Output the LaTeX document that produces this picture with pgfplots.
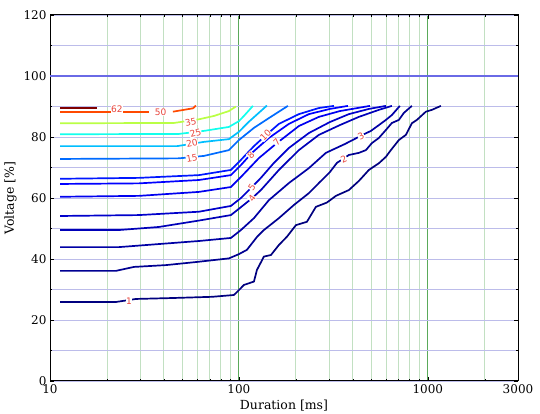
\documentclass[border=0pt]{standalone}
\usepackage{fontspec}
\setmainfont{DejaVu Serif}
\newfontfamily\lblfont{DejaVu Sans}
\usepackage{pgfplots}
\pgfplotsset{compat=1.18}

% jet colours for the contour levels
\definecolor{lv1}{HTML}{00007F}
\definecolor{lv2}{HTML}{000092}
\definecolor{lv3}{HTML}{0000A5}
\definecolor{lv4}{HTML}{0000B8}
\definecolor{lv5}{HTML}{0000CB}
\definecolor{lv7}{HTML}{0000F0}
\definecolor{lv8}{HTML}{0000FF}
\definecolor{lv10}{HTML}{0017FF}
\definecolor{lv15}{HTML}{006BFF}
\definecolor{lv20}{HTML}{00BEFF}
\definecolor{lv25}{HTML}{12FFED}
\definecolor{lv35}{HTML}{BAFF45}
\definecolor{lv50}{HTML}{FF4A00}
\definecolor{lv62}{HTML}{7F0000}
\definecolor{gmaj}{HTML}{5AAA5A}
\definecolor{gmin}{HTML}{C2E0C2}
\definecolor{bgrid}{HTML}{BCBCEA}
\definecolor{bline}{HTML}{6A6AE6}
\definecolor{lred}{HTML}{E8453C}
\tikzset{lab/.style={font=\lblfont\fontsize{9}{10}\selectfont, text=lred, fill=white, inner sep=0.4pt}}

\begin{document}
\begin{tikzpicture}
\begin{axis}[
    width=468pt, height=366pt, scale only axis,
    xmode=log, xmin=10, xmax=3000, ymin=0, ymax=120,
    xtick={10,100,1000,3000}, xticklabels={10,100,1000,3000},
    minor xtick={20,30,40,50,60,70,80,90,200,300,400,500,600,700,800,900,2000},
    ytick={0,20,40,60,80,100,120},
    minor ytick={10,30,50,70,90,110},
    grid=both,
    major x grid style={color=gmaj, line width=1pt},
    minor x grid style={color=gmin, line width=0.7pt},
    major y grid style={color=bgrid, line width=0.7pt},
    minor y grid style={color=bgrid, line width=0.7pt},
    tick align=inside, major tick length=4pt, minor tick length=2pt,
    tick style={black},
    axis line style={line width=1pt},
    xlabel={Duration [ms]}, ylabel={Voltage [\%]},
    tick label style={font=\fontsize{12}{14}\selectfont},
    label style={font=\fontsize{12.5}{14}\selectfont},
    /pgf/number format/assume math mode=true,
    every axis plot/.append style={line width=1.7pt, line join=round},
    no markers,
]
\addplot[bline, line width=1.1pt] coordinates {(10,100) (3000,100)};

% level 1
\addplot[lv1] coordinates {
 (11.3,25.9) (22.3,25.9) (28.5,26.9) (44.2,27.2) (72.0,27.6) (94.1,28.2)
 (100,29.8) (106.3,31.5) (120.1,32.6) (124.5,36.4) (135.6,40.8) (147.7,41.3)
 (162.8,44.6) (179.5,47.3) (200.3,51.1) (229.0,52.2) (255.5,57.1) (292.1,58.5)
 (326.1,60.7) (381.9,62.6) (431.5,65.6) (487.4,69.2) (550.6,71.4) (599.6,73.5)
 (637.2,75.7) (702.4,79.0) (765.0,80.7) (822.9,84.5) (874.6,85.6) (975.9,88.3)
 (1050,88.9) (1172,90.2)};
% level 2
\addplot[lv2] coordinates {
 (11.3,36.1) (22.3,36.1) (27.8,37.4) (41.1,38.0) (59.2,39.0) (88.5,40.2)
 (100,41.6) (110.2,43.0) (124.5,47.2) (135.6,49.5) (162.8,53.4) (195.4,57.7)
 (234.6,61.6) (265.0,64.9) (303.0,68.5) (330.0,71.5) (381.9,74.1) (431.5,74.8)
 (469.9,75.7) (505.5,78.0) (550.6,79.7) (599.6,82.3) (645.0,84.6) (702.4,85.6)
 (746.4,87.9) (822.9,90.2)};
% level 3
\addplot[lv3] coordinates {
 (11.3,43.9) (23.2,43.9) (37.7,44.9) (61.4,45.9) (90.7,46.9) (102.5,49.5)
 (120.1,53.4) (144.1,59.3) (183.9,64.9) (234.6,69.8) (288.6,74.8) (363.9,77.7)
 (442.1,80.4) (499.4,82.0) (550.6,83.9) (599.6,85.6) (645.0,87.2) (711.0,90.2)};
% level 4
\addplot[lv4] coordinates {
 (11.3,49.5) (23.2,49.5) (37.7,50.5) (61.4,52.6) (90.7,54.4) (102.5,57.0)
 (117.2,59.9) (130.7,62.6) (162.8,69.2) (207.7,75.7) (265.0,80.7) (342.1,83.9)
 (431.5,86.6) (550.6,88.9) (645.0,90.2)};
% level 5
\addplot[lv5] coordinates {
 (11.3,54.1) (29.6,54.4) (61.4,55.5) (90.7,57.4) (102.5,60.0) (117.2,63.6)
 (130.7,66.6) (153.1,71.5) (183.9,76.4) (234.6,81.3) (303.0,84.9) (381.9,87.5)
 (487.4,89.2) (599.6,90.2)};
% level 7
\addplot[lv7] coordinates {
 (11.3,60.4) (29.6,60.7) (61.4,62.0) (90.7,63.6) (102.5,66.9) (127.6,73.1)
 (158.9,78.0) (207.7,83.6) (265.0,86.6) (342.1,88.5) (493.4,90.2)};
% level 8
\addplot[lv8] coordinates {
 (11.3,64.6) (29.6,64.8) (61.4,65.9) (90.7,67.5) (102.5,70.8) (117.2,74.8)
 (144.1,79.7) (183.9,84.3) (234.6,87.5) (303.0,89.2) (377.4,90.2)};
% level 10
\addplot[lv10] coordinates {
 (11.3,66.3) (29.6,66.6) (61.4,67.5) (90.7,69.2) (102.5,72.5) (120.1,77.0)
 (135.6,80.0) (162.8,84.3) (207.7,87.5) (265.0,89.5) (318.2,90.2)};
% level 15
\addplot[lv15] coordinates {
 (11.3,72.8) (48.1,73.0) (65.3,73.8) (88.5,75.7) (100,79.0) (120.1,83.0)
 (144.1,86.2) (181.6,90.2)};
% level 20
\addplot[lv20] coordinates {
 (11.3,77.0) (47.0,77.0) (65.3,78.4) (88.5,79.3) (100,81.7) (112.9,85.0)
 (140.6,90.3)};
% level 25
\addplot[lv25] coordinates {
 (11.3,80.9) (48.1,81.0) (65.3,82.0) (88.5,83.3) (100,85.2) (106.3,86.9)
 (118.6,90.2)};
% level 35
\addplot[lv35] coordinates {
 (11.3,84.5) (45.3,84.6) (61.4,85.8) (73.8,86.9) (88.5,88.5) (96.4,90.0)};
% level 50
\addplot[lv50] coordinates {(11.3,88.1) (33.4,88.1)};
\addplot[lv50] coordinates {(44.7,88.3) (57.1,89.4) (59.2,90.3)};
% level 62
\addplot[lv62] coordinates {(11.3,89.4) (17.7,89.4)};

% contour labels
\node[lab] at (axis cs:26.2,26.0) {1};
\node[lab, rotate=25] at (axis cs:359.4,72.8) {2};
\node[lab, rotate=30] at (axis cs:442.1,80.4) {3};
\node[lab, rotate=55] at (axis cs:117.2,59.9) {4};
\node[lab, rotate=55] at (axis cs:117.2,63.6) {5};
\node[lab, rotate=45] at (axis cs:158.9,78.2) {7};
\node[lab, rotate=45] at (axis cs:115.5,74.0) {8};
\node[lab, rotate=45] at (axis cs:138.5,80.6) {10};
\node[lab, rotate=10] at (axis cs:56.4,73.0) {15};
\node[lab, rotate=12] at (axis cs:56.4,77.9) {20};
\node[lab, rotate=15] at (axis cs:58.9,81.2) {25};
\node[lab, rotate=12] at (axis cs:55.6,84.8) {35};
\node[lab] at (axis cs:38.5,88.1) {50};
\node[lab] at (axis cs:22.6,89.2) {62};
\end{axis}
\pgfresetboundingbox
\path[use as bounding box] ([shift={(-50pt,-33pt)}]current axis.south west)
  rectangle ([shift={(22pt,15pt)}]current axis.north east);
\end{tikzpicture}
\end{document}
